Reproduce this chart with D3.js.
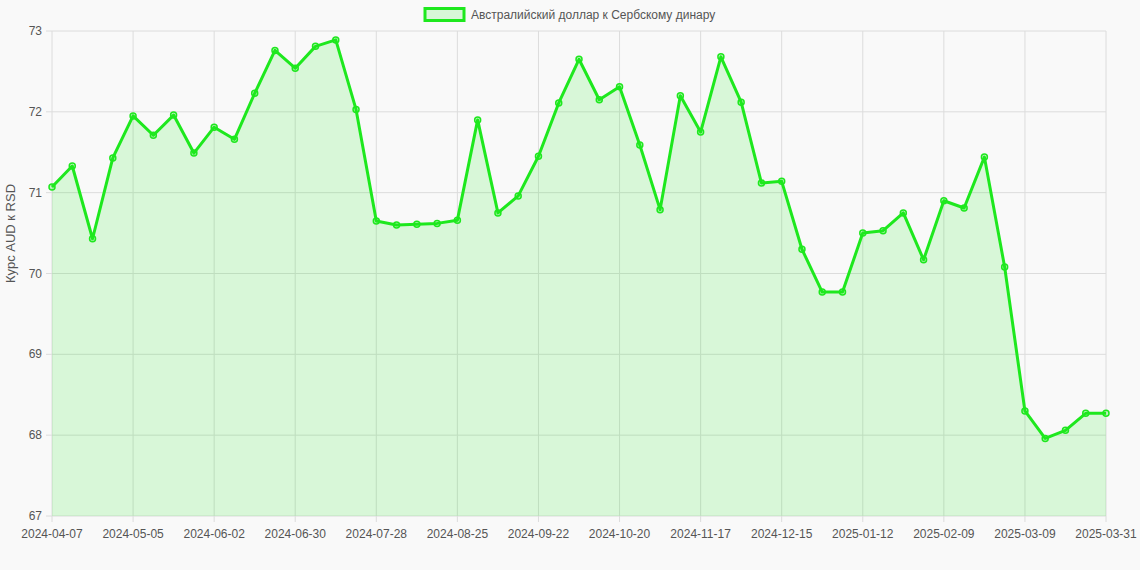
<!DOCTYPE html>
<html><head><meta charset="utf-8">
<script src="https://cdn.jsdelivr.net/npm/d3@7"></script>
<style>body{margin:0;background:#f9f9f9;font-family:"Liberation Sans",Arial,sans-serif}</style>
</head><body><div id="chart"></div>
<script>
var dates = ["2024-04-07","2024-04-14","2024-04-21","2024-04-28","2024-05-05","2024-05-12","2024-05-19","2024-05-26",
"2024-06-02","2024-06-09","2024-06-16","2024-06-23","2024-06-30","2024-07-07","2024-07-14","2024-07-21",
"2024-07-28","2024-08-04","2024-08-11","2024-08-18","2024-08-25","2024-09-01","2024-09-08","2024-09-15",
"2024-09-22","2024-09-29","2024-10-06","2024-10-13","2024-10-20","2024-10-27","2024-11-03","2024-11-10",
"2024-11-17","2024-11-24","2024-12-01","2024-12-08","2024-12-15","2024-12-22","2024-12-29","2025-01-05",
"2025-01-12","2025-01-19","2025-01-26","2025-02-02","2025-02-09","2025-02-16","2025-02-23","2025-03-02",
"2025-03-09","2025-03-16","2025-03-23","2025-03-30","2025-03-31"];
var rates = [71.07,71.33,70.43,71.43,71.95,71.71,71.96,71.49,71.81,71.66,72.23,72.76,72.54,72.81,72.89,72.03,
70.65,70.60,70.61,70.62,70.66,71.90,70.75,70.96,71.45,72.11,72.65,72.15,72.31,71.59,70.79,72.20,
71.75,72.68,72.12,71.12,71.14,70.30,69.77,69.77,70.50,70.53,70.75,70.17,70.90,70.81,71.44,70.08,
68.30,67.96,68.06,68.27,68.27];
var yTicks = [67,68,69,70,71,72,73];
var seriesName = "Австралийский доллар к Сербскому динару";
var yLabel = "Курс AUD к RSD";

var W = 1140, H = 570;
var margin = {top: 31, right: 34, bottom: 54, left: 52};
var cw = W - margin.left - margin.right, ch = H - margin.top - margin.bottom;
var green = "#1ee81e";

var svg = d3.select("#chart").append("svg").attr("width", W).attr("height", H);
var g = svg.append("g").attr("transform", `translate(${margin.left},${margin.top})`);

var x = d3.scalePoint().domain(dates).range([0, cw]);
var y = d3.scaleLinear().domain([67, 73]).range([ch, 0]);

// grid
var xTickVals = dates.filter((d, i) => i % 4 == 0 || i == dates.length - 1);
g.selectAll(".vg").data(xTickVals).enter().append("line")
  .attr("x1", d => x(d)).attr("x2", d => x(d)).attr("y1", 0).attr("y2", ch + 6)
  .attr("stroke", "#dcdcdc");
g.selectAll(".hg").data(yTicks).enter().append("line")
  .attr("x1", -6).attr("x2", cw).attr("y1", d => y(d)).attr("y2", d => y(d))
  .attr("stroke", "#dcdcdc");

// tick labels
g.selectAll(".xt").data(xTickVals).enter().append("text")
  .attr("x", d => x(d)).attr("y", ch + 22).attr("text-anchor", "middle")
  .attr("font-size", 12).attr("fill", "#555").text(d => d);
g.selectAll(".yt").data(yTicks).enter().append("text")
  .attr("x", -10).attr("y", d => y(d) + 4).attr("text-anchor", "end")
  .attr("font-size", 12).attr("fill", "#555").text(d => d);

g.append("text").attr("transform", "rotate(-90)")
  .attr("x", -ch / 2 + 40 - margin.top + 31).attr("y", -37).attr("text-anchor", "middle")
  .attr("font-size", 13).attr("fill", "#555").text(yLabel);

// area + line
var area = d3.area().x((d, i) => x(dates[i])).y0(ch).y1(d => y(d));
var line = d3.line().x((d, i) => x(dates[i])).y(d => y(d));
g.append("path").datum(rates).attr("d", area).attr("fill", "rgba(30,232,30,0.15)");
g.append("path").datum(rates).attr("d", line).attr("fill", "none")
  .attr("stroke", green).attr("stroke-width", 3).attr("stroke-linejoin", "round");
g.selectAll(".pt").data(rates).enter().append("circle")
  .attr("cx", (d, i) => x(dates[i])).attr("cy", d => y(d)).attr("r", 3)
  .attr("fill", "rgba(30,232,30,0.25)").attr("stroke", green).attr("stroke-width", 1.5);

// legend
var leg = svg.append("g");
var lt = leg.append("text").attr("x", 471).attr("y", 19).attr("font-size", 12)
  .attr("fill", "#555").text(seriesName);
leg.append("rect").attr("x", 425).attr("y", 8.5).attr("width", 39).attr("height", 12)
  .attr("fill", "rgba(30,232,30,0.15)").attr("stroke", green).attr("stroke-width", 3);
</script></body></html>
